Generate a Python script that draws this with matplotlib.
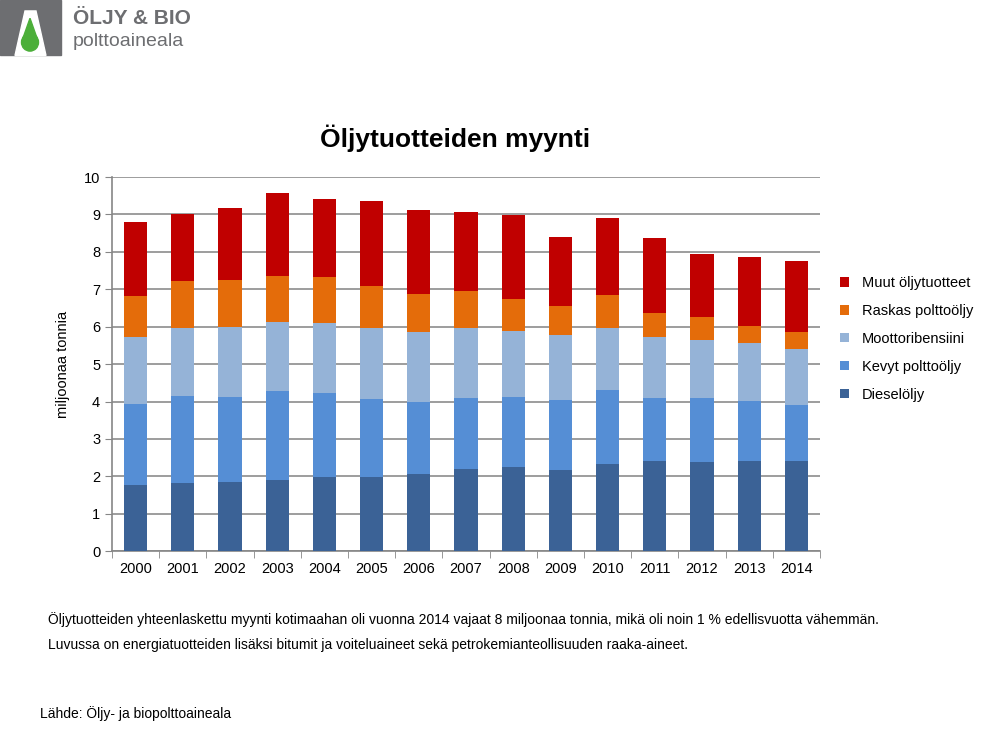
import numpy as np
import matplotlib.pyplot as plt
from matplotlib.patches import Rectangle, Polygon, Ellipse

plt.rcParams['font.family'] = ['Liberation Sans', 'DejaVu Sans']

years = [str(y) for y in range(2000, 2015)]
dieseloljy = [1.78, 1.81, 1.85, 1.91, 1.99, 1.99, 2.07, 2.20, 2.24, 2.18, 2.34, 2.42, 2.39, 2.42, 2.41]
kevyt = [2.15, 2.33, 2.27, 2.36, 2.23, 2.08, 1.92, 1.89, 1.88, 1.87, 1.96, 1.68, 1.70, 1.60, 1.49]
moottoribensiini = [1.80, 1.83, 1.86, 1.86, 1.89, 1.89, 1.86, 1.87, 1.76, 1.72, 1.67, 1.63, 1.56, 1.55, 1.51]
raskas = [1.08, 1.24, 1.26, 1.23, 1.21, 1.13, 1.03, 1.00, 0.85, 0.78, 0.89, 0.63, 0.61, 0.46, 0.44]
muut = [1.98, 1.80, 1.92, 2.22, 2.08, 2.28, 2.23, 2.11, 2.26, 1.86, 2.04, 2.00, 1.69, 1.82, 1.90]

series = [
    ('Dieselöljy', dieseloljy, '#3b6296'),
    ('Kevyt polttoöljy', kevyt, '#558ed5'),
    ('Moottoribensiini', moottoribensiini, '#95b3d7'),
    ('Raskas polttoöljy', raskas, '#e46c0a'),
    ('Muut öljytuotteet', muut, '#c00000'),
]

fig = plt.figure(figsize=(10, 7.3), dpi=100)
ax = fig.add_axes([0.112, 0.245, 0.708, 0.5125])

x = np.arange(len(years))
bottom = np.zeros(len(years))
handles = []
for name, vals, col in series:
    b = ax.bar(x, vals, 0.49, bottom=bottom, color=col, label=name, zorder=3)
    handles.append(b)
    bottom += np.array(vals)

ax.set_xlim(-0.5, len(years) - 0.5)
ax.set_ylim(0, 10)
ax.set_yticks(range(0, 11))
ax.set_xticks(x)
ax.set_xticklabels(years)
ax.set_xticks(np.arange(-0.5, len(years), 1), minor=True)
ax.tick_params(axis='x', which='major', length=0, labelsize=10.5, pad=8)
ax.tick_params(axis='x', which='minor', length=5, color='#868686', direction='out')
ax.tick_params(axis='y', length=5, color='#868686', labelsize=10.5, direction='out')
ax.yaxis.grid(True, color='#8c8c8c', linewidth=1.2, zorder=0)
for s in ['top', 'right']:
    ax.spines[s].set_visible(False)
for s in ['left', 'bottom']:
    ax.spines[s].set_color('#868686')
    ax.spines[s].set_linewidth(1.2)
ax.set_ylabel('miljoonaa tonnia', fontsize=10.5, labelpad=10)

fig.text(0.455, 0.811, 'Öljytuotteiden myynti', ha='center', va='center',
         fontsize=19, fontweight='bold')

leg = ax.legend(handles[::-1], [s[0] for s in series][::-1], loc='upper left',
                bbox_to_anchor=(1.01, 0.77), frameon=False, fontsize=10.5,
                handlelength=0.6, handleheight=0.6, labelspacing=0.95,
                handletextpad=0.9)

# footnotes
fig.text(0.048, 0.152, 'Öljytuotteiden yhteenlaskettu myynti kotimaahan oli vuonna 2014 vajaat 8 '
         'miljoonaa tonnia, mikä oli noin 1 % edellisvuotta vähemmän.', fontsize=10, va='center')
fig.text(0.048, 0.116, 'Luvussa on energiatuotteiden lisäksi bitumit ja voiteluaineet sekä '
         'petrokemianteollisuuden raaka-aineet.', fontsize=10, va='center')
fig.text(0.040, 0.022, 'Lähde: Öljy- ja biopolttoaineala', fontsize=10, va='center')

# logo
fig.patches.append(Rectangle((0.0, 0.924), 0.061, 0.076, transform=fig.transFigure,
                             color='#6d6e71', zorder=1))
fig.patches.append(Polygon([(0.015, 0.924), (0.046, 0.924), (0.036, 0.985), (0.025, 0.985)],
                           closed=True, transform=fig.transFigure, color='white', zorder=2))
fig.patches.append(Polygon([(0.030, 0.975), (0.022, 0.944), (0.038, 0.944)],
                           closed=True, transform=fig.transFigure, color='#4caf3a', zorder=3))
fig.patches.append(Ellipse((0.030, 0.942), 0.017, 0.024, transform=fig.transFigure,
                           color='#4caf3a', zorder=3))
fig.text(0.073, 0.975, 'ÖLJY & BIO', fontsize=15, fontweight='bold', color='#6d6e71',
         va='center')
fig.text(0.073, 0.943, 'polttoaineala', fontsize=14, color='#6d6e71', va='center')

fig.savefig('out.png', dpi=100)
